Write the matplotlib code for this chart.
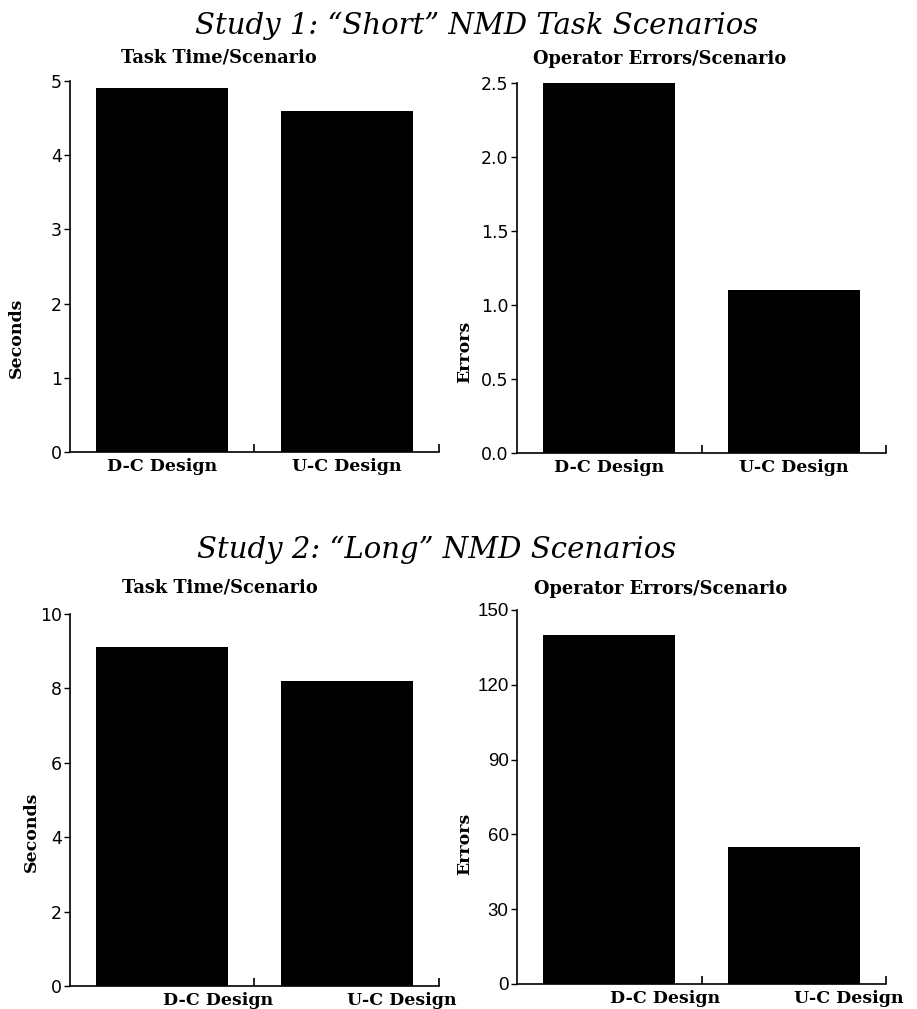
import matplotlib
matplotlib.use("Agg")
import matplotlib.pyplot as plt
import numpy as np

# Data
designs = ["D-C Design", "U-C Design"]
s1_time = [4.9, 4.6]
s1_errors = [2.5, 1.1]
s2_time = [9.1, 8.2]
s2_errors = [140, 55]

s1_time_ticks = [0, 1, 2, 3, 4, 5]
s1_err_ticks = [0.0, 0.5, 1.0, 1.5, 2.0, 2.5]
s2_time_ticks = [0, 2, 4, 6, 8, 10]
s2_err_ticks = [0, 30, 60, 90, 120, 150]

fig = plt.figure(figsize=(9.17, 10.09), dpi=100)

serif = "DejaVu Serif"


def panel(rect, values, yticks, ylabel, subtitle, label_shift, ylab_xy,
          tick_fmt, tick_font, tick_size, sub_xy):
    ax = fig.add_axes(rect)
    x = np.arange(len(values))
    ax.bar(x, values, width=0.715, color="black")
    ax.set_xlim(-0.5, 1.5)
    ax.set_ylim(yticks[0], yticks[-1])
    ax.set_yticks(yticks)
    ax.set_yticklabels([tick_fmt.format(t) for t in yticks],
                       family=tick_font, fontsize=tick_size)
    ax.tick_params(axis="y", direction="out", length=4, width=1, pad=2)
    # category labels (no tick marks) and boundary ticks
    ax.set_xticks(x + label_shift)
    ax.set_xticklabels(designs, family=serif, fontweight="bold", fontsize=12.5)
    ax.tick_params(axis="x", which="major", length=0, pad=4)
    ax.set_xticks([0.5, 1.5], minor=True)
    ax.tick_params(axis="x", which="minor", direction="in", length=6, width=1.2)
    for s in ["top", "right"]:
        ax.spines[s].set_visible(False)
    for s in ["left", "bottom"]:
        ax.spines[s].set_linewidth(1.2)
    ax.set_ylabel(ylabel, family=serif, fontweight="bold", fontsize=12.5)
    ax.yaxis.set_label_coords(*ylab_xy)
    fig.text(sub_xy[0], sub_xy[1], subtitle, family=serif, fontweight="bold",
             fontsize=12.8, ha="center", va="baseline")
    return ax


panel([0.0763, 0.552, 0.4024, 0.3677], s1_time, s1_time_ticks, "Seconds",
      "Task Time/Scenario", 0.0, (-0.122, 0.307), "{:g}", "DejaVu Sans", 12.5,
      (219 / 917, 1 - 63 / 1009))
panel([0.5638, 0.551, 0.4024, 0.3667], s1_errors, s1_err_ticks, "Errors",
      "Operator Errors/Scenario", 0.0, (-0.119, 0.273), "{:.1f}", "DejaVu Sans", 12.5,
      (660 / 917, 1 - 64 / 1009))
panel([0.0763, 0.0228, 0.4024, 0.3687], s2_time, s2_time_ticks, "Seconds",
      "Task Time/Scenario", 0.3, (-0.081, 0.414), "{:g}", "DejaVu Sans", 12.5,
      (220 / 917, 1 - 593 / 1009))
panel([0.5638, 0.0248, 0.4024, 0.3707], s2_errors, s2_err_ticks, "Errors",
      "Operator Errors/Scenario", 0.3, (-0.119, 0.375), "{:g}", "Liberation Sans", 13.5,
      (661 / 917, 1 - 594 / 1009))

fig.text(195 / 917, 1 - 34 / 1009, "Study 1: \u201cShort\u201d NMD Task Scenarios",
         family=serif, style="italic", fontsize=21, ha="left", va="baseline")
fig.text(197 / 917, 1 - 558 / 1009, "Study 2: \u201cLong\u201d NMD Scenarios",
         family=serif, style="italic", fontsize=21, ha="left", va="baseline")

fig.savefig("out.png", dpi=100)
